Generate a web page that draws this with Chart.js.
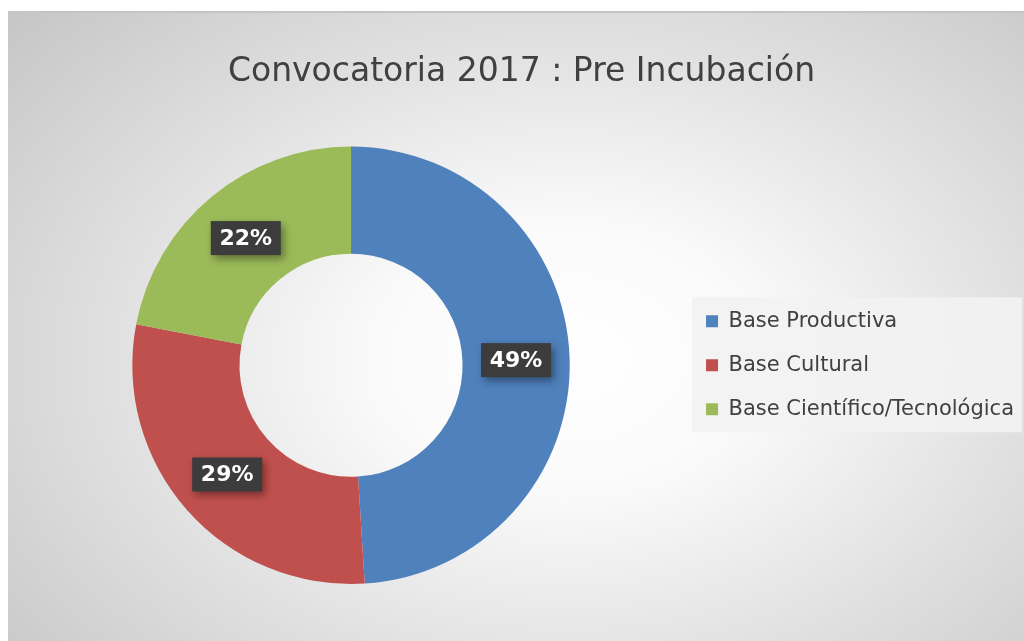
<!DOCTYPE html>
<html>
<head>
<meta charset="utf-8">
<script src="https://cdn.jsdelivr.net/npm/chart.js@4"></script>
<style>
  html, body { margin: 0; padding: 0; background: #fff; }
  #wrap {
    position: absolute; left: 8px; top: 11px; width: 1016px; height: 630px;
    border-top: 2px solid #c4c4c4; box-sizing: border-box;
    background: radial-gradient(ellipse 75% 85% at 55% 55%, #ffffff 0%, #fafafa 25%, #e0e0e0 60%, #c4c4c4 100%);
  }
  canvas { display: block; }
</style>
</head>
<body>
<div id="wrap"><canvas id="c" width="1016" height="628"></canvas></div>
<script>
// datos del gráfico
const categorias = ['Base Productiva', 'Base Cultural', 'Base Científico/Tecnológica'];
const porcentajes = [49, 29, 22];
const colores = ['#4F81BD', '#C0504D', '#9BBB59'];
const titulo = 'Convocatoria 2017 : Pre Incubación';

// fondo del recuadro de la leyenda (solo alrededor de los items)
const fondoLeyenda = {
    id: 'fondoLeyenda',
    beforeDraw(chart) {
        const lg = chart.legend;
        if (!lg || !lg.legendHitBoxes || !lg.legendHitBoxes.length) return;
        const hb = lg.legendHitBoxes;
        const first = hb[0], last = hb[hb.length - 1];
        const x0 = Math.min(...hb.map(h => h.left)) - 14;
        const x1 = lg.right - 2;
        const y0 = first.top + first.height / 2 - 24;
        const y1 = last.top + last.height / 2 + 23;
        const ctx = chart.ctx;
        ctx.save();
        ctx.fillStyle = 'rgba(242,242,242,0.92)';
        ctx.fillRect(x0, y0, x1 - x0, y1 - y0);
        ctx.restore();
    }
};

// etiquetas con porcentaje en cajas oscuras
const etiquetas = {
    id: 'etiquetas',
    afterDatasetsDraw(chart) {
        const ctx = chart.ctx;
        const meta = chart.getDatasetMeta(0);
        ctx.save();
        ctx.font = 'bold 22px "DejaVu Sans"';
        ctx.textAlign = 'center';
        ctx.textBaseline = 'middle';
        meta.data.forEach((arc, i) => {
            const p = arc.tooltipPosition();
            const txt = porcentajes[i] + '%';
            const w = 70, h = 34;
            ctx.save();
            ctx.shadowColor = 'rgba(0,0,0,0.4)';
            ctx.shadowBlur = 8;
            ctx.shadowOffsetX = 3;
            ctx.shadowOffsetY = 4;
            ctx.fillStyle = '#3c3c3c';
            ctx.fillRect(p.x - w / 2, p.y - h / 2, w, h);
            ctx.restore();
            ctx.fillStyle = '#ffffff';
            ctx.fillText(txt, p.x, p.y + 1);
        });
        ctx.restore();
    }
};

new Chart(document.getElementById('c'), {
    type: 'doughnut',
    data: {
        labels: categorias,
        datasets: [{
            data: porcentajes,
            backgroundColor: colores,
            borderWidth: 0
        }]
    },
    options: {
        responsive: false,
        animation: false,
        cutout: '51%',
        layout: { padding: { top: 0, bottom: 57, left: 11, right: 0 } },
        plugins: {
            title: {
                display: true,
                text: titulo,
                color: '#404040',
                font: { family: '"DejaVu Sans"', size: 33, weight: 'normal' },
                padding: { top: 40, bottom: 54 }
            },
            legend: {
                position: 'right',
                fullSize: false,
                labels: {
                    color: '#404040',
                    font: { family: '"DejaVu Sans"', size: 21 },
                    boxWidth: 12,
                    boxHeight: 12,
                    padding: 23
                }
            },
            tooltip: { enabled: false }
        }
    },
    plugins: [fondoLeyenda, etiquetas]
});
</script>
</body>
</html>
